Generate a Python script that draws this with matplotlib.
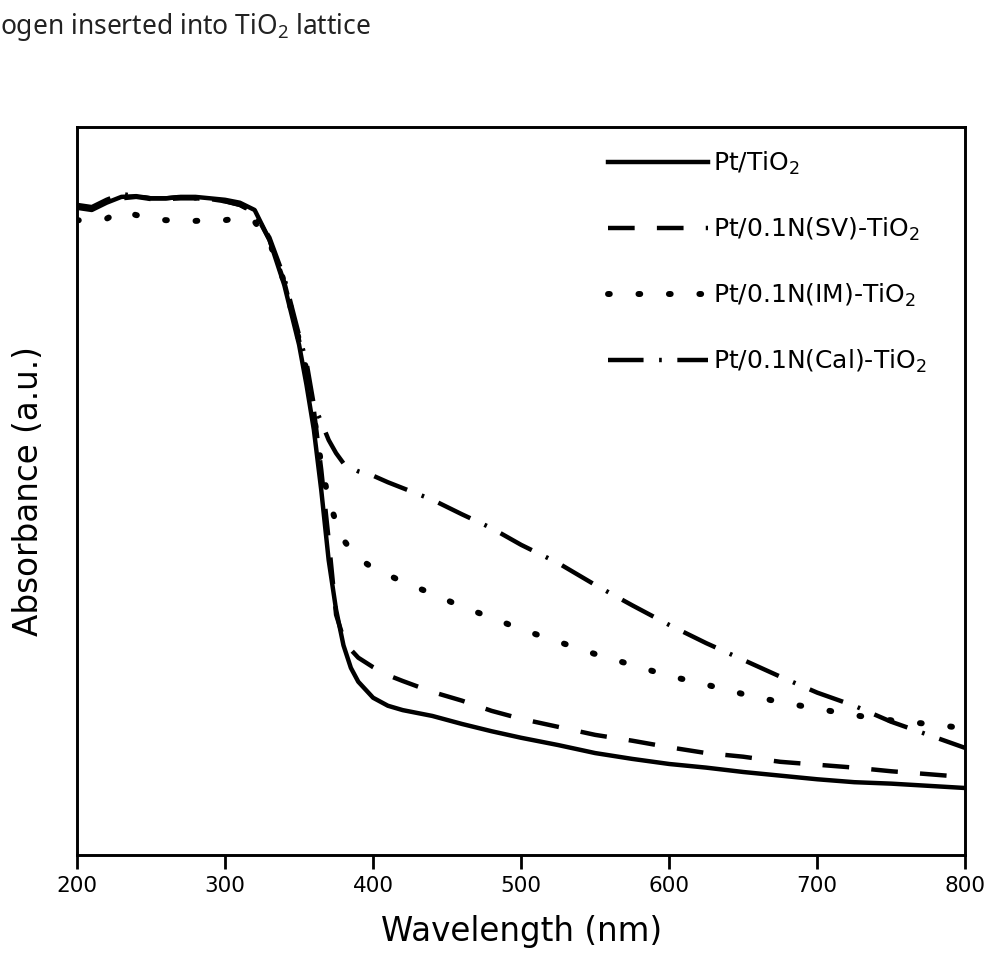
import numpy as np
import matplotlib
matplotlib.use("Agg")
import matplotlib.pyplot as plt

plt.rcParams['font.family'] = ['DejaVu Sans']
plt.rcParams['mathtext.default'] = 'regular'

# Longitud de onda (nm)
wavelength = [200, 210, 220, 230, 240, 250, 260, 270, 280, 290, 300, 310, 320, 330,
              340, 350, 355, 360, 365, 370, 375, 380, 385, 390, 400, 410, 420, 440,
              460, 480, 500, 525, 550, 575, 600, 625, 650, 675, 700, 725, 750, 775, 800]

# Absorbancia (u.a.)
abs_pt = [0.889, 0.886, 0.896, 0.904, 0.905, 0.902, 0.902, 0.904, 0.904, 0.902, 0.900,
          0.896, 0.886, 0.845, 0.783, 0.701, 0.646, 0.584, 0.501, 0.405, 0.337, 0.288,
          0.257, 0.238, 0.216, 0.205, 0.199, 0.191, 0.180, 0.170, 0.161, 0.151, 0.140,
          0.132, 0.125, 0.120, 0.114, 0.109, 0.104, 0.100, 0.098, 0.095, 0.092]

abs_sv = [0.891, 0.889, 0.897, 0.902, 0.904, 0.901, 0.901, 0.902, 0.902, 0.901, 0.898,
          0.893, 0.883, 0.845, 0.787, 0.707, 0.663, 0.611, 0.529, 0.433, 0.330, 0.298,
          0.282, 0.271, 0.258, 0.247, 0.239, 0.224, 0.212, 0.198, 0.187, 0.176, 0.165,
          0.157, 0.148, 0.140, 0.135, 0.128, 0.124, 0.120, 0.115, 0.111, 0.107]

abs_im = [0.872, 0.871, 0.874, 0.885, 0.879, 0.875, 0.872, 0.872, 0.871, 0.872, 0.872,
          0.875, 0.870, 0.842, 0.787, 0.707, 0.666, 0.604, 0.536, 0.488, 0.457, 0.433,
          0.419, 0.408, 0.394, 0.385, 0.375, 0.359, 0.341, 0.326, 0.310, 0.293, 0.276,
          0.261, 0.246, 0.234, 0.221, 0.210, 0.201, 0.192, 0.185, 0.180, 0.174]

abs_cal = [0.893, 0.890, 0.900, 0.908, 0.905, 0.902, 0.902, 0.904, 0.902, 0.901, 0.898,
           0.893, 0.882, 0.848, 0.793, 0.714, 0.677, 0.618, 0.595, 0.570, 0.552, 0.538,
           0.532, 0.527, 0.521, 0.512, 0.504, 0.488, 0.468, 0.449, 0.426, 0.401, 0.371,
           0.343, 0.316, 0.291, 0.268, 0.245, 0.223, 0.205, 0.183, 0.165, 0.147]

etiquetas = ['Pt/TiO$_2$', 'Pt/0.1N(SV)-TiO$_2$', 'Pt/0.1N(IM)-TiO$_2$', 'Pt/0.1N(Cal)-TiO$_2$']
xticks = [200, 300, 400, 500, 600, 700, 800]


def main():
    fig = plt.figure(figsize=(9.87, 9.57), dpi=100)
    ax = fig.add_axes([0.078, 0.1066, 0.9, 0.7607])

    ax.plot(wavelength, abs_pt, color='black', lw=3.2, label=etiquetas[0])
    ax.plot(wavelength, abs_sv, color='black', lw=3.2, linestyle=(0, (6, 5)),
            label=etiquetas[1])
    ax.plot(wavelength, abs_im, color='black', lw=4.3, linestyle=(0, (0.3, 4.8)),
            dash_capstyle='round', label=etiquetas[2])
    ax.plot(wavelength, abs_cal, color='black', lw=3.2,
            linestyle=(0, (8, 3.5, 0.6, 3.5)), label=etiquetas[3])

    ax.set_xlim(200, 800)
    ax.set_ylim(0, 1)
    ax.set_xticks(xticks)
    ax.set_yticks([])
    ax.tick_params(axis='x', direction='out', length=10, width=2, labelsize=15.5, pad=5)
    for s in ax.spines.values():
        s.set_linewidth(2.1)

    ax.set_xlabel('Wavelength (nm)', fontsize=23.5, labelpad=14)
    ax.set_ylabel('Absorbance (a.u.)', fontsize=23.5)
    ax.yaxis.set_label_coords(-0.036, 0.5)

    ax.legend(loc='upper right', bbox_to_anchor=(0.982, 1.0), frameon=False,
              fontsize=18, handlelength=4, handletextpad=0.2, labelspacing=1.55)

    fig.text(0.0, 0.972, 'ogen inserted into TiO$_2$ lattice', fontsize=19,
             color='#222222', ha='left', va='center', family='Noto Sans')

    plt.savefig('out.png', dpi=100)
    plt.close()


if __name__ == "__main__":
    main()
